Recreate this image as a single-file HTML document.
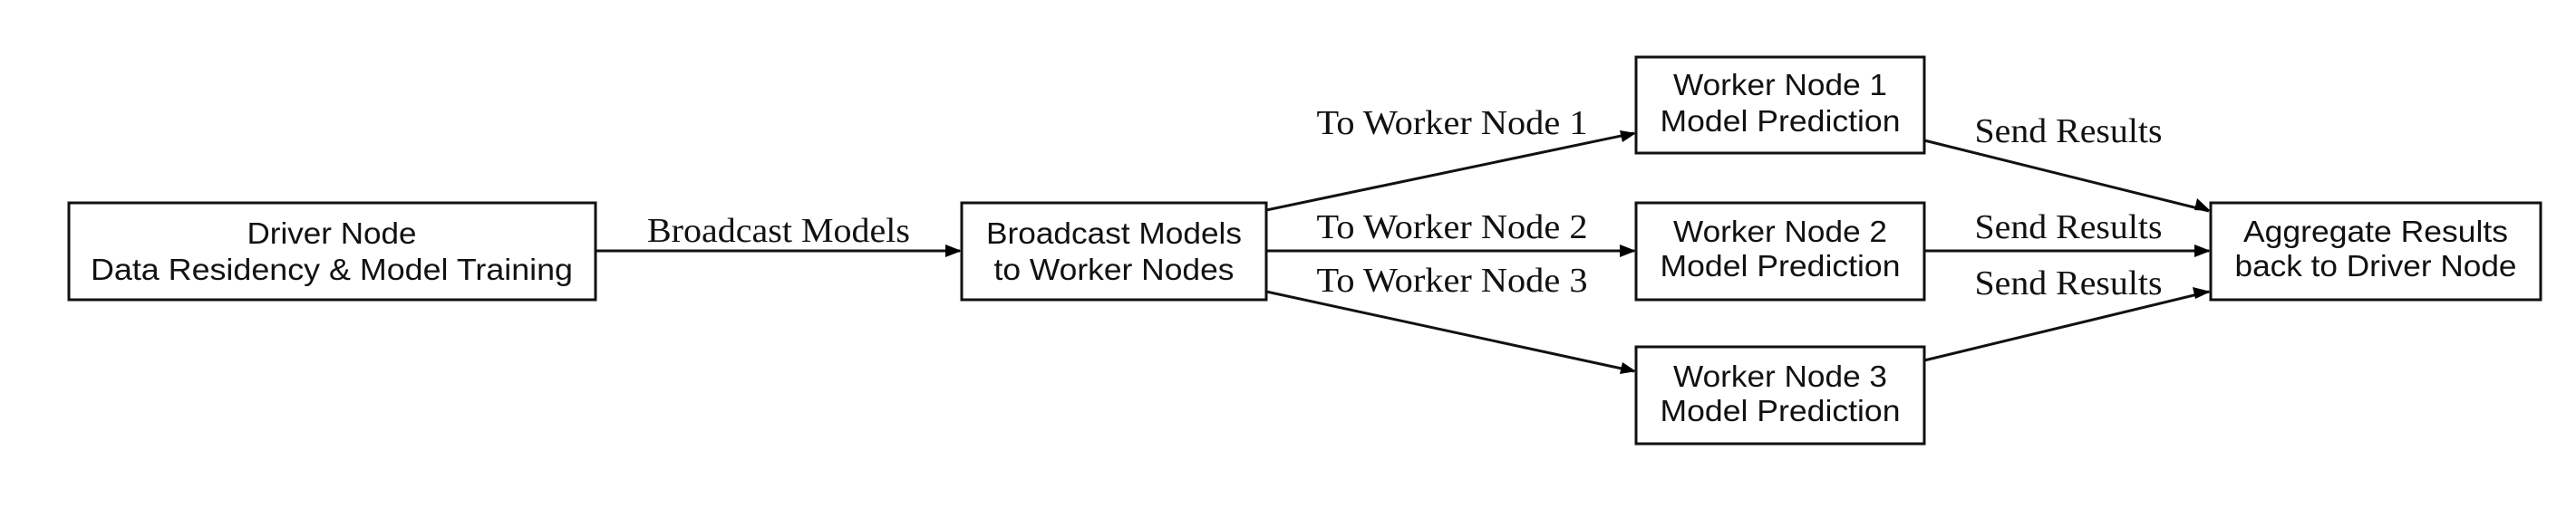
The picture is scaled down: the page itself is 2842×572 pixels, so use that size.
<!DOCTYPE html>
<html><head><meta charset="utf-8"><style>html,body{margin:0;padding:0;background:#fff}svg{display:block}</style></head>
<body>
<svg width="2842" height="572" viewBox="0 0 2842 572" xmlns="http://www.w3.org/2000/svg">
<rect width="2842" height="572" fill="#fff"/>
<g fill="#fff" stroke="#111" stroke-width="3">
<rect x="76" y="224" width="581" height="107"/>
<rect x="1061" y="224" width="336" height="107"/>
<rect x="1805" y="63" width="318" height="106"/>
<rect x="1805" y="224" width="318" height="107"/>
<rect x="1805" y="383" width="318" height="107"/>
<rect x="2439" y="224" width="364" height="107"/>
</g>
<g stroke="#111" stroke-width="3" fill="none">
<line x1="657" y1="277" x2="1059" y2="277"/>
<line x1="1397" y1="232" x2="1803" y2="147"/>
<line x1="1397" y1="277" x2="1803" y2="277"/>
<line x1="1397" y1="322" x2="1803" y2="410"/>
<line x1="2123" y1="155" x2="2437" y2="233"/>
<line x1="2123" y1="277" x2="2437" y2="277"/>
<line x1="2123" y1="398" x2="2437" y2="322"/>
</g>
<g fill="#000">
<path d="M1061,277 l-18,-7 v14 z"/>
<path d="M1805,147 l-18,-3 l3,13 z"/>
<path d="M1805,277 l-18,-7 v14 z"/>
<path d="M1805,410 l-18,3 l3,-13 z"/>
<path d="M2439,233 l-18,-1 l3,-13 z"/>
<path d="M2439,277 l-18,-7 v14 z"/>
<path d="M2439,322 l-17,8 l-3,-13 z"/>
</g>
<g font-family="Liberation Sans, sans-serif" font-size="33" fill="#111" text-anchor="middle">
<text x="366" y="269" textLength="187" lengthAdjust="spacingAndGlyphs">Driver Node</text>
<text x="366" y="309" textLength="532" lengthAdjust="spacingAndGlyphs">Data Residency &amp; Model Training</text>
<text x="1229" y="269" textLength="282" lengthAdjust="spacingAndGlyphs">Broadcast Models</text>
<text x="1229" y="309" textLength="265" lengthAdjust="spacingAndGlyphs">to Worker Nodes</text>
<text x="1964" y="105" textLength="236" lengthAdjust="spacingAndGlyphs">Worker Node 1</text>
<text x="1964" y="145" textLength="265" lengthAdjust="spacingAndGlyphs">Model Prediction</text>
<text x="1964" y="267" textLength="236" lengthAdjust="spacingAndGlyphs">Worker Node 2</text>
<text x="1964" y="305" textLength="265" lengthAdjust="spacingAndGlyphs">Model Prediction</text>
<text x="1964" y="427" textLength="236" lengthAdjust="spacingAndGlyphs">Worker Node 3</text>
<text x="1964" y="465" textLength="265" lengthAdjust="spacingAndGlyphs">Model Prediction</text>
<text x="2621" y="267" textLength="292" lengthAdjust="spacingAndGlyphs">Aggregate Results</text>
<text x="2621" y="305" textLength="311" lengthAdjust="spacingAndGlyphs">back to Driver Node</text>
</g>
<g font-family="Liberation Serif, serif" font-size="38" fill="#111" text-anchor="middle">
<text x="859" y="267" textLength="290" lengthAdjust="spacingAndGlyphs">Broadcast Models</text>
<text x="1602" y="148" textLength="299" lengthAdjust="spacingAndGlyphs">To Worker Node 1</text>
<text x="1602" y="263" textLength="299" lengthAdjust="spacingAndGlyphs">To Worker Node 2</text>
<text x="1602" y="322" textLength="299" lengthAdjust="spacingAndGlyphs">To Worker Node 3</text>
<text x="2282" y="157" textLength="207" lengthAdjust="spacingAndGlyphs">Send Results</text>
<text x="2282" y="263" textLength="207" lengthAdjust="spacingAndGlyphs">Send Results</text>
<text x="2282" y="325" textLength="207" lengthAdjust="spacingAndGlyphs">Send Results</text>
</g>
</svg>
</body></html>
